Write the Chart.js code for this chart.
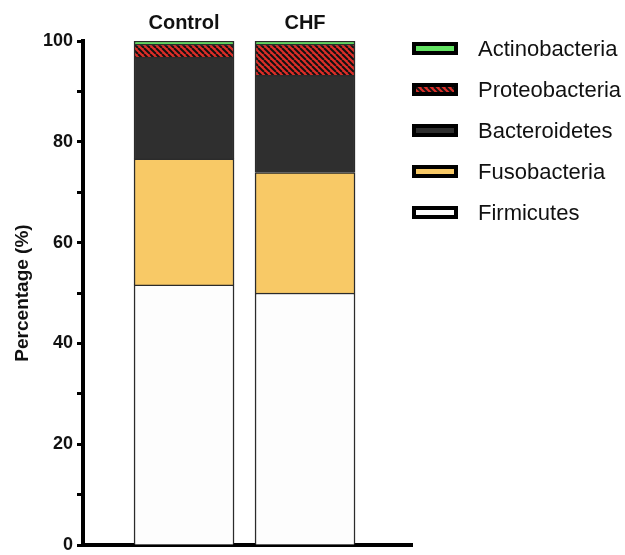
<!DOCTYPE html>
<html>
<head>
<meta charset="utf-8">
<script src="https://cdn.jsdelivr.net/npm/chart.js@4.4.1/dist/chart.umd.min.js"></script>
<style>
  body { margin: 0; background: #fff; }
  #wrap { position: relative; width: 625px; height: 555px; }
  #legend { position: absolute; left: 412px; top: 28px; font-family: 'Liberation Sans', Arial, sans-serif; font-size: 22px; color: #111; }
  #legend .row { height: 41px; display: flex; align-items: center; }
  #legend .box { width: 46px; height: 13px; box-sizing: border-box; border: 4px solid #000; }
  #legend .txt { margin-left: 20px; }
</style>
</head>
<body>
<div id="wrap">
  <canvas id="chart" width="625" height="555"></canvas>
  <div id="legend"></div>
</div>
<script>
// groups along the x axis
var groups = ["Control", "CHF"];

// relative abundance (%) per phylum, one value per group
var firmicutes = [51.6, 50.0];
var fusobacteria = [25.0, 23.9];
var bacteroidetes = [20.2, 19.3];
var proteobacteria = [2.6, 6.2];
var actinobacteria = [0.6, 0.6];

var yMin = 0, yMax = 100, yStep = 10, yLabelEvery = 20;

Chart.defaults.font.family = "'Liberation Sans', Arial, sans-serif";
Chart.defaults.color = "#111";

// red with black diagonal hatching
var hatch = document.createElement("canvas");
hatch.width = 6;
hatch.height = 6;
var hctx = hatch.getContext("2d");
hctx.fillStyle = "#dc2e28";
hctx.fillRect(0, 0, 6, 6);
hctx.strokeStyle = "#111";
hctx.lineWidth = 2;
for (var k = -6; k <= 6; k += 6) {
    hctx.beginPath();
    hctx.moveTo(k, 0);
    hctx.lineTo(k + 6, 6);
    hctx.stroke();
}
var ctx = document.getElementById("chart").getContext("2d");
var hatchPattern = ctx.createPattern(hatch, "repeat");

function points(values) {
    return groups.map(function(g, i) { return { x: i + 1, y: values[i] }; });
}

function series(label, values, color) {
    return {
        label: label,
        data: points(values),
        backgroundColor: color,
        borderColor: "#2b2b2b",
        borderWidth: 1.5,
        barThickness: 100
    };
}

var xMin = 0.165, xMax = 2.884;

var chart = new Chart(ctx, {
    type: "bar",
    data: {
        datasets: [
            series("Firmicutes", firmicutes, "#fdfdfd"),
            series("Fusobacteria", fusobacteria, "#f8c966"),
            series("Bacteroidetes", bacteroidetes, "#2f2f2f"),
            series("Proteobacteria", proteobacteria, hatchPattern),
            series("Actinobacteria", actinobacteria, "#62e262")
        ]
    },
    options: {
        responsive: false,
        animation: false,
        layout: { padding: { left: 0, right: 213, top: 0, bottom: 0 } },
        plugins: {
            legend: { display: false },
            tooltip: { enabled: false }
        },
        scales: {
            x: {
                type: "linear",
                stacked: true,
                offset: false,
                min: xMin,
                max: xMax,
                grid: { display: false, drawTicks: false, offset: false },
                ticks: { display: false },
                border: { color: "#000", width: 4 },
                afterFit: function(s) { s.height = 10; }
            },
            x2: {
                type: "linear",
                position: "top",
                offset: false,
                min: xMin,
                max: xMax,
                grid: { display: false, drawTicks: false, offset: false },
                border: { display: false },
                afterBuildTicks: function(s) {
                    s.ticks = groups.map(function(g, i) { return { value: i + 1 }; });
                },
                ticks: {
                    autoSkip: false,
                    maxRotation: 0,
                    padding: 6,
                    font: { size: 20, weight: "bold" },
                    callback: function(v, i) { return groups[i]; }
                },
                afterFit: function(s) { s.height = 41; }
            },
            y: {
                stacked: true,
                min: yMin,
                max: yMax,
                ticks: {
                    stepSize: yStep,
                    autoSkip: false,
                    padding: 4,
                    font: { size: 18, weight: "bold" },
                    callback: function(v) { return v % yLabelEvery === 0 ? v : ""; }
                },
                grid: { drawOnChartArea: false, tickLength: 6, tickWidth: 3, tickColor: "#000" },
                border: { color: "#000", width: 4 },
                title: {
                    display: true,
                    text: "Percentage (%)",
                    font: { size: 19, weight: "bold" },
                    padding: { top: 11, bottom: 0 }
                },
                afterFit: function(s) {
                    s.width = 83;
                    s.paddingTop = 0;
                    s.paddingBottom = 0;
                }
            }
        }
    }
});

// legend, top entry first as in the figure
var legend = document.getElementById("legend");
chart.data.datasets.slice().reverse().forEach(function(ds) {
    var row = document.createElement("div");
    row.className = "row";
    var box = document.createElement("span");
    box.className = "box";
    if (ds.backgroundColor === hatchPattern) {
        box.style.backgroundImage = "url(" + hatch.toDataURL() + ")";
    } else {
        box.style.background = ds.backgroundColor;
    }
    var txt = document.createElement("span");
    txt.className = "txt";
    txt.textContent = ds.label;
    row.appendChild(box);
    row.appendChild(txt);
    legend.appendChild(row);
});
</script>
</body>
</html>
